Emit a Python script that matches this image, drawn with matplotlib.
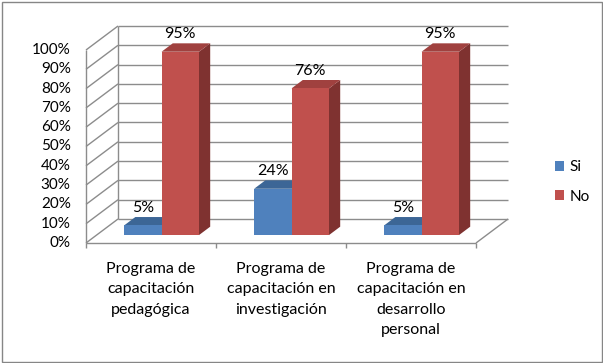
import matplotlib
matplotlib.use('Agg')
import matplotlib.pyplot as plt
from matplotlib.patches import Polygon, Rectangle, Patch

# data
categories = ["Programa de\ncapacitación\npedagógica",
              "Programa de\ncapacitación en\ninvestigación",
              "Programa de\ncapacitación en\ndesarrollo\npersonal"]
series = ["Si", "No"]
si = [5, 24, 5]
no = [95, 76, 95]
yticks = list(range(0, 101, 10))

colors = {"Si": ("#4F81BD", "#3C6696", "#2F5180"),
          "No": ("#C0504D", "#A0413F", "#7F3230")}
grid_c = "#8C8C8C"

plt.rcParams['font.family'] = ['Lato', 'DejaVu Sans']
plt.rcParams['lines.solid_capstyle'] = 'butt'

W, H = 603, 363
fig = plt.figure(figsize=(W / 100, H / 100), dpi=100)
ax = fig.add_axes([0, 0, 1, 1])
ax.set_axis_off()

# pixel anchors of the front plane: x 0..3 -> px 86..476, y 0..100 -> px 243..50 (from top)
px_x0, px_x3 = 86, 476
px_y0, px_y100 = H - 243, H - 50
ux = 3 / (px_x3 - px_x0)
uy = 100 / (px_y100 - px_y0)
ax.set_xlim(-px_x0 * ux, 3 + (W - px_x3) * ux)
ax.set_ylim(-px_y0 * uy, 100 + (H - px_y100) * uy)

# full depth offset in data units
DX = 32 * ux
DY = 24 * uy


def off(d):
    return d * DX, d * DY


# walls
bx, by = off(1)
for t in yticks:
    ax.plot([bx, 3 + bx], [t + by, t + by], color=grid_c, lw=1, zorder=1)
    ax.plot([0, bx], [t, t + by], color=grid_c, lw=1, zorder=1)
ax.plot([bx, bx], [by, 100 + by], color=grid_c, lw=1, zorder=1)
ax.plot([0, 0], [0, 100], color=grid_c, lw=1, zorder=1)
ax.plot([0, 3], [0, 0], color=grid_c, lw=1, zorder=1)
ax.plot([3, 3 + bx], [0, by], color=grid_c, lw=1, zorder=1)
for i in range(len(categories) + 1):
    ax.plot([i, i], [0, -2.6], color=grid_c, lw=1, zorder=1)

for t in yticks:
    ax.annotate(f"{t}%", (0, t), xytext=(-11, 0), textcoords='offset points',
                ha='right', va='center', fontsize=11, color='black')

# bars
bw = 0.288
d0, d1 = 0.33, 0.68
z = 2
for i, cat in enumerate(categories):
    c = i + 0.5
    for j, (name, vals) in enumerate(zip(series, [si, no])):
        v = vals[i]
        x0 = c - bw + j * bw
        x1 = x0 + bw
        fx, fy = off(d0)
        rx, ry = off(d1)
        front_c, top_c, side_c = colors[name]
        ax.add_patch(Polygon([(x1 + fx, fy), (x1 + fx, v + fy), (x1 + rx, v + ry), (x1 + rx, ry)],
                             closed=True, fc=side_c, ec='none', zorder=z))
        ax.add_patch(Polygon([(x0 + fx, v + fy), (x1 + fx, v + fy), (x1 + rx, v + ry), (x0 + rx, v + ry)],
                             closed=True, fc=top_c, ec='none', zorder=z))
        ax.add_patch(Rectangle((x0 + fx, fy), bw, v, fc=front_c, ec='none', zorder=z))
        z += 1
        ax.annotate(f"{v}%", ((x0 + x1) / 2 + fx, v + ry), xytext=(0, 1.5),
                    textcoords='offset points', ha='center', va='bottom',
                    fontsize=11.5, color='black', zorder=20)
    ax.annotate(cat, (c, 0), xytext=(0, -14), textcoords='offset points',
                ha='center', va='top', fontsize=11.5, linespacing=1.55, color='black')

handles = [Patch(fc=colors[s][0], ec='none') for s in series]
fig.legend(handles, series, loc='center left', bbox_to_anchor=(541 / W, 1 - 182 / H),
           frameon=False, fontsize=11, handlelength=0.6, handleheight=0.6,
           handletextpad=0.35, labelspacing=1.0)

fig.patches.append(Rectangle((1.5 / W, 1.5 / H), (W - 3) / W, (H - 3) / H,
                             transform=fig.transFigure, fill=False, ec='#868686', lw=1))

fig.savefig("out.png", dpi=100)
